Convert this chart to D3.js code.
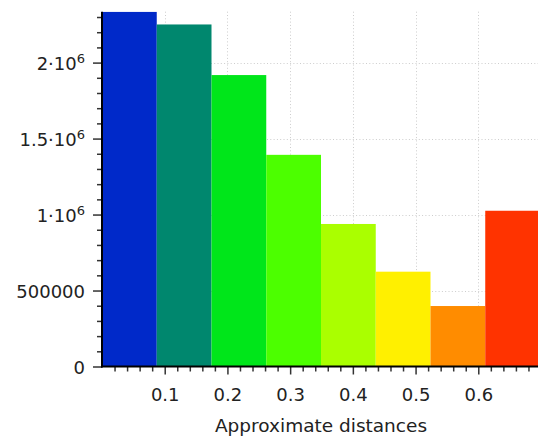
<!DOCTYPE html>
<html>
<head>
<meta charset="utf-8">
<script src="https://cdn.jsdelivr.net/npm/d3@7"></script>
<style>
body { margin: 0; background: #fff; }
text { font-family: "DejaVu Sans", sans-serif; fill: #222; }
</style>
</head>
<body>
<svg id="chart" width="538" height="439"></svg>
<script>
// histogram bins
var binEdges = [0, 0.0873, 0.1746, 0.2619, 0.3492, 0.4365, 0.5238, 0.6111, 0.6984];
var counts = [2335000, 2251000, 1918000, 1393000, 938000, 624000, 398000, 1025000];
var barColors = ["#0029c9", "#00876e", "#00e61a", "#4cff00", "#aaff00", "#fff000", "#ff8c00", "#ff3300"];
var xTicks = [0.1, 0.2, 0.3, 0.4, 0.5, 0.6];
var yTicks = [0, 500000, 1000000, 1500000, 2000000];
var yTickLabels = [["0", ""], ["500000", ""], ["1·10", "6"], ["1.5·10", "6"], ["2·10", "6"]];

var plotLeft = 102, plotRight = 541, plotTop = 11.7, plotBottom = 366.5;
var svg = d3.select('#chart');

var x = d3.scaleLinear().domain([0, 0.7]).range([plotLeft, plotRight]);
var y = d3.scaleLinear().domain([0, d3.max(counts)]).range([plotBottom, plotTop]);

svg.append('clipPath').attr('id', 'plotclip')
	.append('rect')
	.attr('x', plotLeft).attr('y', plotTop).attr('width', plotRight - plotLeft).attr('height', plotBottom - plotTop);

// dotted grid
var grid = svg.append('g').attr('stroke', '#cdcdcd').attr('stroke-width', 1).attr('stroke-dasharray', '1,2.3');
grid.selectAll('line.vx').data(xTicks).enter().append('line')
	.attr('x1', function(d){ return Math.round(x(d)) + 0.5 })
	.attr('x2', function(d){ return Math.round(x(d)) + 0.5 })
	.attr('y1', plotTop).attr('y2', plotBottom);
grid.selectAll('line.hy').data(yTicks.slice(1)).enter().append('line')
	.attr('y1', function(d){ return Math.round(y(d)) + 0.5 })
	.attr('y2', function(d){ return Math.round(y(d)) + 0.5 })
	.attr('x1', plotLeft).attr('x2', plotRight);

// bars
svg.append('g').attr('clip-path', 'url(#plotclip)')
	.selectAll('rect').data(counts).enter().append('rect')
	.attr('x', function(d, i){ return x(binEdges[i]) })
	.attr('width', function(d, i){ return x(binEdges[i + 1]) - x(binEdges[i]) })
	.attr('y', function(d){ return y(d) })
	.attr('height', function(d){ return plotBottom - y(d) })
	.attr('fill', function(d, i){ return barColors[i] });

// x axis
var minorX = d3.range(0, 35).map(function(i){ return i * 0.02 }).filter(function(v){
	return xTicks.every(function(t){ return Math.abs(t - v) > 1e-6 }) && v > 0.001;
});
var xAxisG = svg.append('g').attr('transform', 'translate(0,' + plotBottom + ')');
xAxisG.append('g').call(d3.axisBottom(x).tickValues(minorX).tickSize(5).tickFormat(''));
xAxisG.append('g').call(d3.axisBottom(x).tickValues(xTicks).tickSize(8).tickPadding(14).tickFormat(d3.format('.1f')));
xAxisG.selectAll('.domain').remove();
xAxisG.selectAll('line').attr('stroke', '#333').attr('stroke-width', 1.5);
xAxisG.selectAll('text').attr('font-size', 18).attr('fill', '#222').attr('font-family', '"DejaVu Sans", sans-serif');

// y axis
var minorY = d3.range(1, 24).map(function(i){ return i * 100000 }).filter(function(v){ return v % 500000 !== 0 });
var yAxisG = svg.append('g').attr('transform', 'translate(' + plotLeft + ',0)');
yAxisG.append('g').call(d3.axisLeft(y).tickValues(minorY).tickSize(5).tickFormat(''));
yAxisG.append('g').call(d3.axisLeft(y).tickValues(yTicks).tickSize(9).tickFormat(''));
yAxisG.selectAll('.domain').remove();
yAxisG.selectAll('line').attr('stroke', '#333').attr('stroke-width', 1.5);

var yLabels = svg.append('g').selectAll('text').data(yTicks).enter().append('text')
	.attr('x', 85)
	.attr('y', function(d){ return y(d) + 7 })
	.attr('text-anchor', 'end')
	.attr('font-size', 18);
yLabels.append('tspan').text(function(d, i){ return yTickLabels[i][0] });
yLabels.append('tspan').attr('dy', -7).attr('font-size', 13).text(function(d, i){ return yTickLabels[i][1] });

// axis lines
svg.append('line').attr('x1', plotLeft).attr('x2', plotLeft).attr('y1', plotTop).attr('y2', plotBottom + 1)
	.attr('stroke', '#000').attr('stroke-width', 2);
svg.append('line').attr('x1', plotLeft - 1).attr('x2', plotRight).attr('y1', plotBottom).attr('y2', plotBottom)
	.attr('stroke', '#000').attr('stroke-width', 2);

svg.append('text')
	.attr('x', 321).attr('y', 432)
	.attr('text-anchor', 'middle')
	.attr('font-size', 18.5)
	.text('Approximate distances');
</script>
</body>
</html>
